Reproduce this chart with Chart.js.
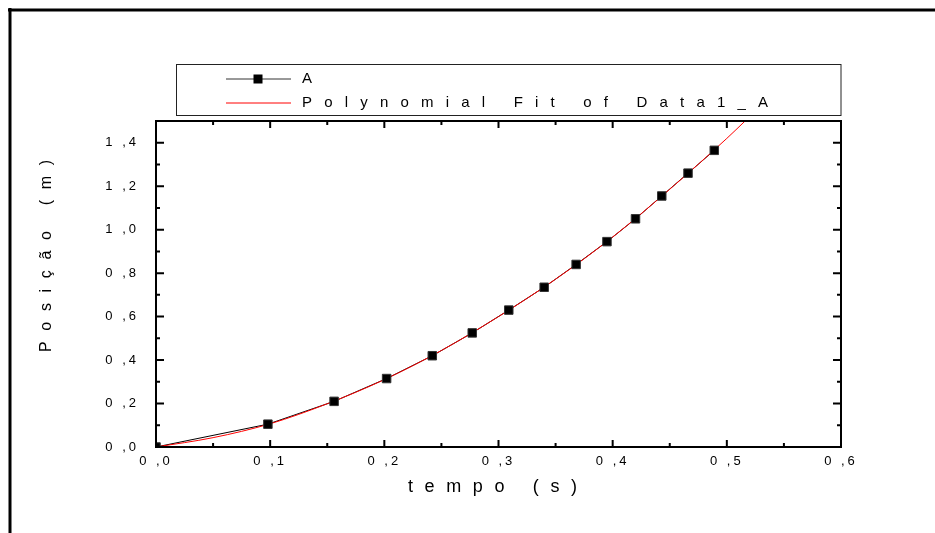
<!DOCTYPE html>
<html>
<head>
<meta charset="utf-8">
<script src="https://cdn.jsdelivr.net/npm/chart.js@4"></script>
<style>
  html, body { margin: 0; padding: 0; background: #fff; }
  canvas { display: block; }
</style>
</head>
<body>
<canvas id="myChart" width="935" height="533"></canvas>
<script>
// measured data (tempo in s, posicao in m)
const tempoA = [0, 0.098, 0.156, 0.202, 0.242, 0.277, 0.309, 0.340, 0.368, 0.395, 0.420, 0.443, 0.466, 0.489];
const posA = [0, 0.105, 0.21, 0.315, 0.42, 0.525, 0.63, 0.735, 0.84, 0.945, 1.05, 1.155, 1.26, 1.365];

// red fit curve
const tempoFit = [0, 0.05, 0.1, 0.15, 0.2, 0.25, 0.3, 0.35, 0.4, 0.45, 0.5, 0.516];
const posFit = [0, 0.043, 0.107, 0.199, 0.31, 0.444, 0.6, 0.772, 0.966, 1.186, 1.42, 1.5];

const xTickLabels = ["0 ,0", "0 ,1", "0 ,2", "0 ,3", "0 ,4", "0 ,5", "0 ,6"];
const yTickLabels = ["0 ,0", "0 ,2", "0 ,4", "0 ,6", "0 ,8", "1 ,0", "1 ,2", "1 ,4"];

const FONT = "'Liberation Sans', Arial, sans-serif";

const toXY = (xs, ys) => xs.map((x, i) => ({ x: x, y: ys[i] }));

// letter-spaced text stretched over a given span
function spaced(ctx, text, x, y, span) {
  ctx.letterSpacing = "0px";
  const w = ctx.measureText(text).width;
  const s = (span - w) / (text.length - 1);
  ctx.letterSpacing = s + "px";
  ctx.fillText(text, x, y);
}

const decorations = {
  id: "decorations",
  beforeDraw(chart) {
    const ctx = chart.ctx;
    ctx.save();
    ctx.fillStyle = "#000";
    ctx.fillRect(8, 8.5, 927, 3);
    ctx.fillRect(8.5, 8, 3, 525);
    ctx.restore();
    // spacing used by tick labels
    ctx.letterSpacing = "3px";
  },
  afterDraw(chart) {
    const ctx = chart.ctx;
    const a = chart.chartArea;
    const xs = chart.scales.x;
    const ys = chart.scales.y;

    ctx.save();
    ctx.strokeStyle = "#000";
    ctx.lineWidth = 2;
    ctx.strokeRect(a.left, a.top, a.right - a.left, a.bottom - a.top);

    // inward ticks on all four sides
    ctx.beginPath();
    for (let k = 0; k <= 12; k++) {
      const px = xs.getPixelForValue(k * 0.05);
      const len = k % 2 === 0 ? 7 : 4;
      ctx.moveTo(px, a.bottom); ctx.lineTo(px, a.bottom - len);
      ctx.moveTo(px, a.top); ctx.lineTo(px, a.top + len);
    }
    for (let k = 0; k <= 15; k++) {
      const py = ys.getPixelForValue(k * 0.1);
      const len = k % 2 === 0 ? 8 : 4;
      ctx.moveTo(a.left, py); ctx.lineTo(a.left + len, py);
      ctx.moveTo(a.right, py); ctx.lineTo(a.right - len, py);
    }
    ctx.stroke();

    // axis titles
    ctx.fillStyle = "#000";
    ctx.textAlign = "left";
    ctx.textBaseline = "middle";
    ctx.font = "18px " + FONT;
    spaced(ctx, "tempo (s)", 408, 487, 169);
    ctx.font = "16px " + FONT;
    ctx.save();
    ctx.translate(47, 352);
    ctx.rotate(-Math.PI / 2);
    spaced(ctx, "Posição (m)", 0, 0, 192);
    ctx.restore();

    // legend box
    ctx.lineWidth = 1;
    ctx.strokeStyle = "#222";
    ctx.strokeRect(176.5, 64.5, a.right - 176.5, 51);

    ctx.strokeStyle = "#333";
    ctx.beginPath();
    ctx.moveTo(226, 79); ctx.lineTo(291, 79);
    ctx.stroke();
    ctx.fillRect(253.5, 74.5, 9, 9);

    ctx.strokeStyle = "#ff0000";
    ctx.beginPath();
    ctx.moveTo(226, 103); ctx.lineTo(291, 103);
    ctx.stroke();

    ctx.font = "15px " + FONT;
    ctx.letterSpacing = "0px";
    ctx.fillText("A", 302, 79);
    spaced(ctx, "Polynomial Fit of Data1_A", 302, 103, 466);
    ctx.restore();
  }
};

Chart.defaults.color = "#000";
Chart.defaults.font.family = FONT;

const ctx = document.getElementById("myChart");

new Chart(ctx, {
  type: "line",
  data: {
    datasets: [
      {
        label: "A",
        data: toXY(tempoA, posA),
        showLine: false,
        pointStyle: "rect",
        pointRadius: 6,
        pointBackgroundColor: "#000",
        pointBorderColor: "#333",
        pointBorderWidth: 1,
        order: 0,
      },
      {
        label: "Polynomial Fit of Data1_A",
        data: toXY(tempoFit, posFit),
        borderColor: "#ff0000",
        borderWidth: 1,
        pointRadius: 0,
        cubicInterpolationMode: "monotone",
        order: 1,
      },
      {
        label: "A line",
        data: toXY(tempoA, posA),
        borderColor: "#000",
        borderWidth: 1,
        pointRadius: 0,
        tension: 0,
        order: 2,
      },
    ],
  },
  options: {
    responsive: false,
    animation: false,
    events: [],
    layout: { padding: { top: 121, right: 94, left: 0, bottom: 0 } },
    plugins: {
      legend: { display: false },
      tooltip: { enabled: false },
    },
    scales: {
      x: {
        type: "linear",
        min: 0,
        max: 0.6,
        grid: { display: false, drawTicks: false },
        border: { display: false },
        afterFit: (s) => { s.height = 86; },
        ticks: {
          stepSize: 0.1,
          padding: 7,
          maxRotation: 0,
          autoSkip: false,
          font: { size: 13 },
          callback: (v) => xTickLabels[Math.round(v * 10)],
        },
      },
      y: {
        type: "linear",
        min: 0,
        max: 1.5,
        grid: { display: false, drawTicks: false },
        border: { display: false },
        afterFit: (s) => { s.width = 156; },
        ticks: {
          stepSize: 0.2,
          includeBounds: false,
          padding: 17,
          autoSkip: false,
          font: { size: 13 },
          callback: (v) => yTickLabels[Math.round(v * 5)],
        },
      },
    },
  },
  plugins: [decorations],
});
</script>
</body>
</html>
